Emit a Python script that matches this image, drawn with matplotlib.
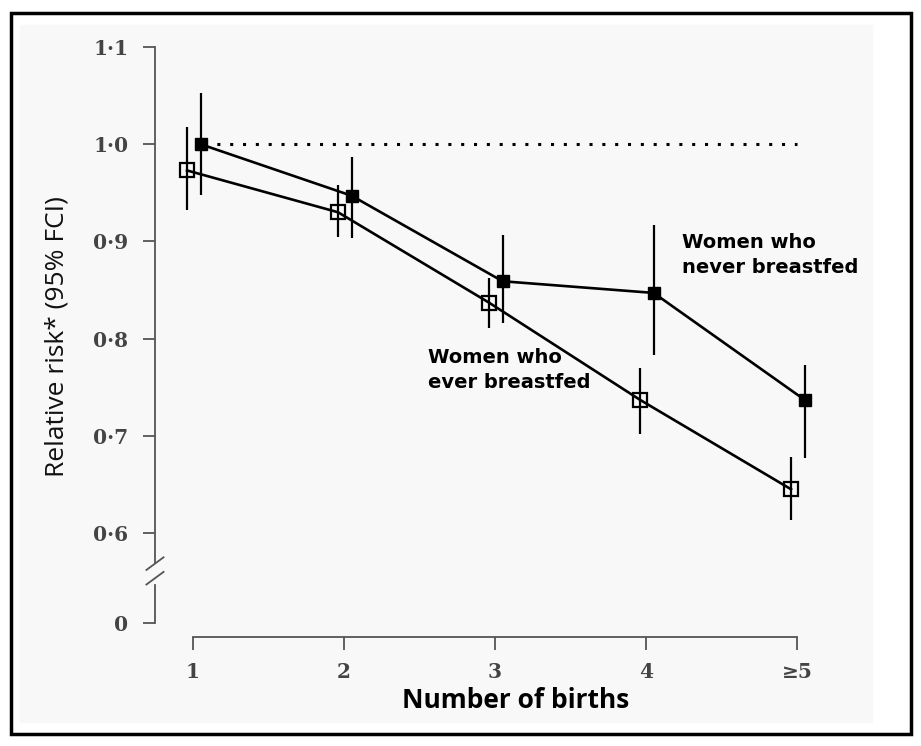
import numpy as np
import matplotlib.pyplot as plt
from matplotlib.patches import Rectangle
from matplotlib.transforms import blended_transform_factory

# data
births = [1, 2, 3, 4, 5]
xlabels = ['1', '2', '3', '4', '\u22655']

never_rr = [1.000, 0.947, 0.859, 0.847, 0.737]
never_lo = [0.948, 0.904, 0.816, 0.783, 0.677]
never_hi = [1.053, 0.987, 0.907, 0.917, 0.773]

ever_rr = [0.973, 0.930, 0.837, 0.737, 0.645]
ever_lo = [0.932, 0.905, 0.811, 0.702, 0.613]
ever_hi = [1.018, 0.958, 0.862, 0.770, 0.678]

yticks = [0.6, 0.7, 0.8, 0.9, 1.0, 1.1]
zero_pos = 0.507  # where the "0" sits below the axis break

fig = plt.figure(figsize=(9.21, 7.46), dpi=100)

# frame and faint paper background
fig.patches.append(Rectangle((20 / 921, 1 - 722 / 746), 852 / 921, 697 / 746,
                             transform=fig.transFigure, color='#f8f8f8', zorder=-2))
fig.patches.append(Rectangle((11 / 921, 1 - 734 / 746), 900 / 921, 721 / 746,
                             transform=fig.transFigure, fill=False,
                             edgecolor='black', linewidth=2.5, zorder=-1))

ax = fig.add_axes([155 / 921, 1 - 637 / 746, 715 / 921, 590 / 746])
ax.set_zorder(2)
ax.patch.set_alpha(0)
ax.set_xlim(0.748, 5.483)
ax.set_ylim(0.493, 1.1)

xn = np.array(births) + 0.05
xe = np.array(births) - 0.04

ax.plot([1.07, 5], [1.0, 1.0], color='black', lw=2.2, ls=(0, (1, 3.2)))

ax.vlines(xe, ever_lo, ever_hi, color='black', lw=1.6, zorder=2)
ax.vlines(xn, never_lo, never_hi, color='black', lw=1.6, zorder=2)
ax.plot(xe, ever_rr, color='black', lw=1.9, marker='s', ms=10.5,
        mfc='none', mec='black', mew=1.6, zorder=3)
ax.plot(xn, never_rr, color='black', lw=1.9, marker='s', ms=8,
        mfc='black', mec='black', zorder=4)

# axes styling
for s in ['top', 'right']:
    ax.spines[s].set_visible(False)
ax.spines['left'].set_bounds(0.569, 1.1)
ax.spines['bottom'].set_bounds(1, 5)
for s in ['left', 'bottom']:
    ax.spines[s].set_color('#555555')
    ax.spines[s].set_linewidth(1.3)

ax.set_yticks(yticks + [zero_pos])
ax.set_yticklabels([('%.1f' % v).replace('.', '\u00b7') for v in yticks] + ['0'])
ax.set_xticks(births)
ax.set_xticklabels(xlabels)
ax.tick_params(axis='both', direction='out', length=9, width=1.3, color='#555555',
               labelsize=14.5)
ax.tick_params(axis='y', pad=10)
ax.tick_params(axis='x', pad=9)
for lab in ax.get_xticklabels() + ax.get_yticklabels():
    lab.set_fontfamily('DejaVu Serif')
    lab.set_fontweight('bold')
    lab.set_color('#444444')

# axis break
tr = blended_transform_factory(ax.transAxes, ax.transData)
ax.plot([0, 0], [zero_pos, 0.546], transform=tr, color='#555555', lw=1.3, clip_on=False)
ax.plot([-0.012, 0.012], [0.562, 0.575], transform=tr, color='#555555', lw=1.3, clip_on=False)
ax.plot([-0.012, 0.012], [0.547, 0.560], transform=tr, color='#555555', lw=1.3, clip_on=False)

ax.set_xlabel('Number of births', fontfamily='Open Sans', fontweight='bold',
              fontsize=19)
ax.xaxis.set_label_coords(0.505, -0.085)
ax.set_ylabel('Relative risk* (95% FCI)', fontfamily='Open Sans',
              fontsize=19, color='#111111')
ax.yaxis.set_label_coords(-0.12, 0.51)

ax.text(2.556, 0.790, 'Women who\never breastfed', fontfamily='DejaVu Sans',
        fontweight='bold', fontsize=14, va='top', ha='left', linespacing=1.4)
ax.text(4.238, 0.909, 'Women who\nnever breastfed', fontfamily='DejaVu Sans',
        fontweight='bold', fontsize=14, va='top', ha='left', linespacing=1.4)

fig.savefig('out.png', dpi=100)
